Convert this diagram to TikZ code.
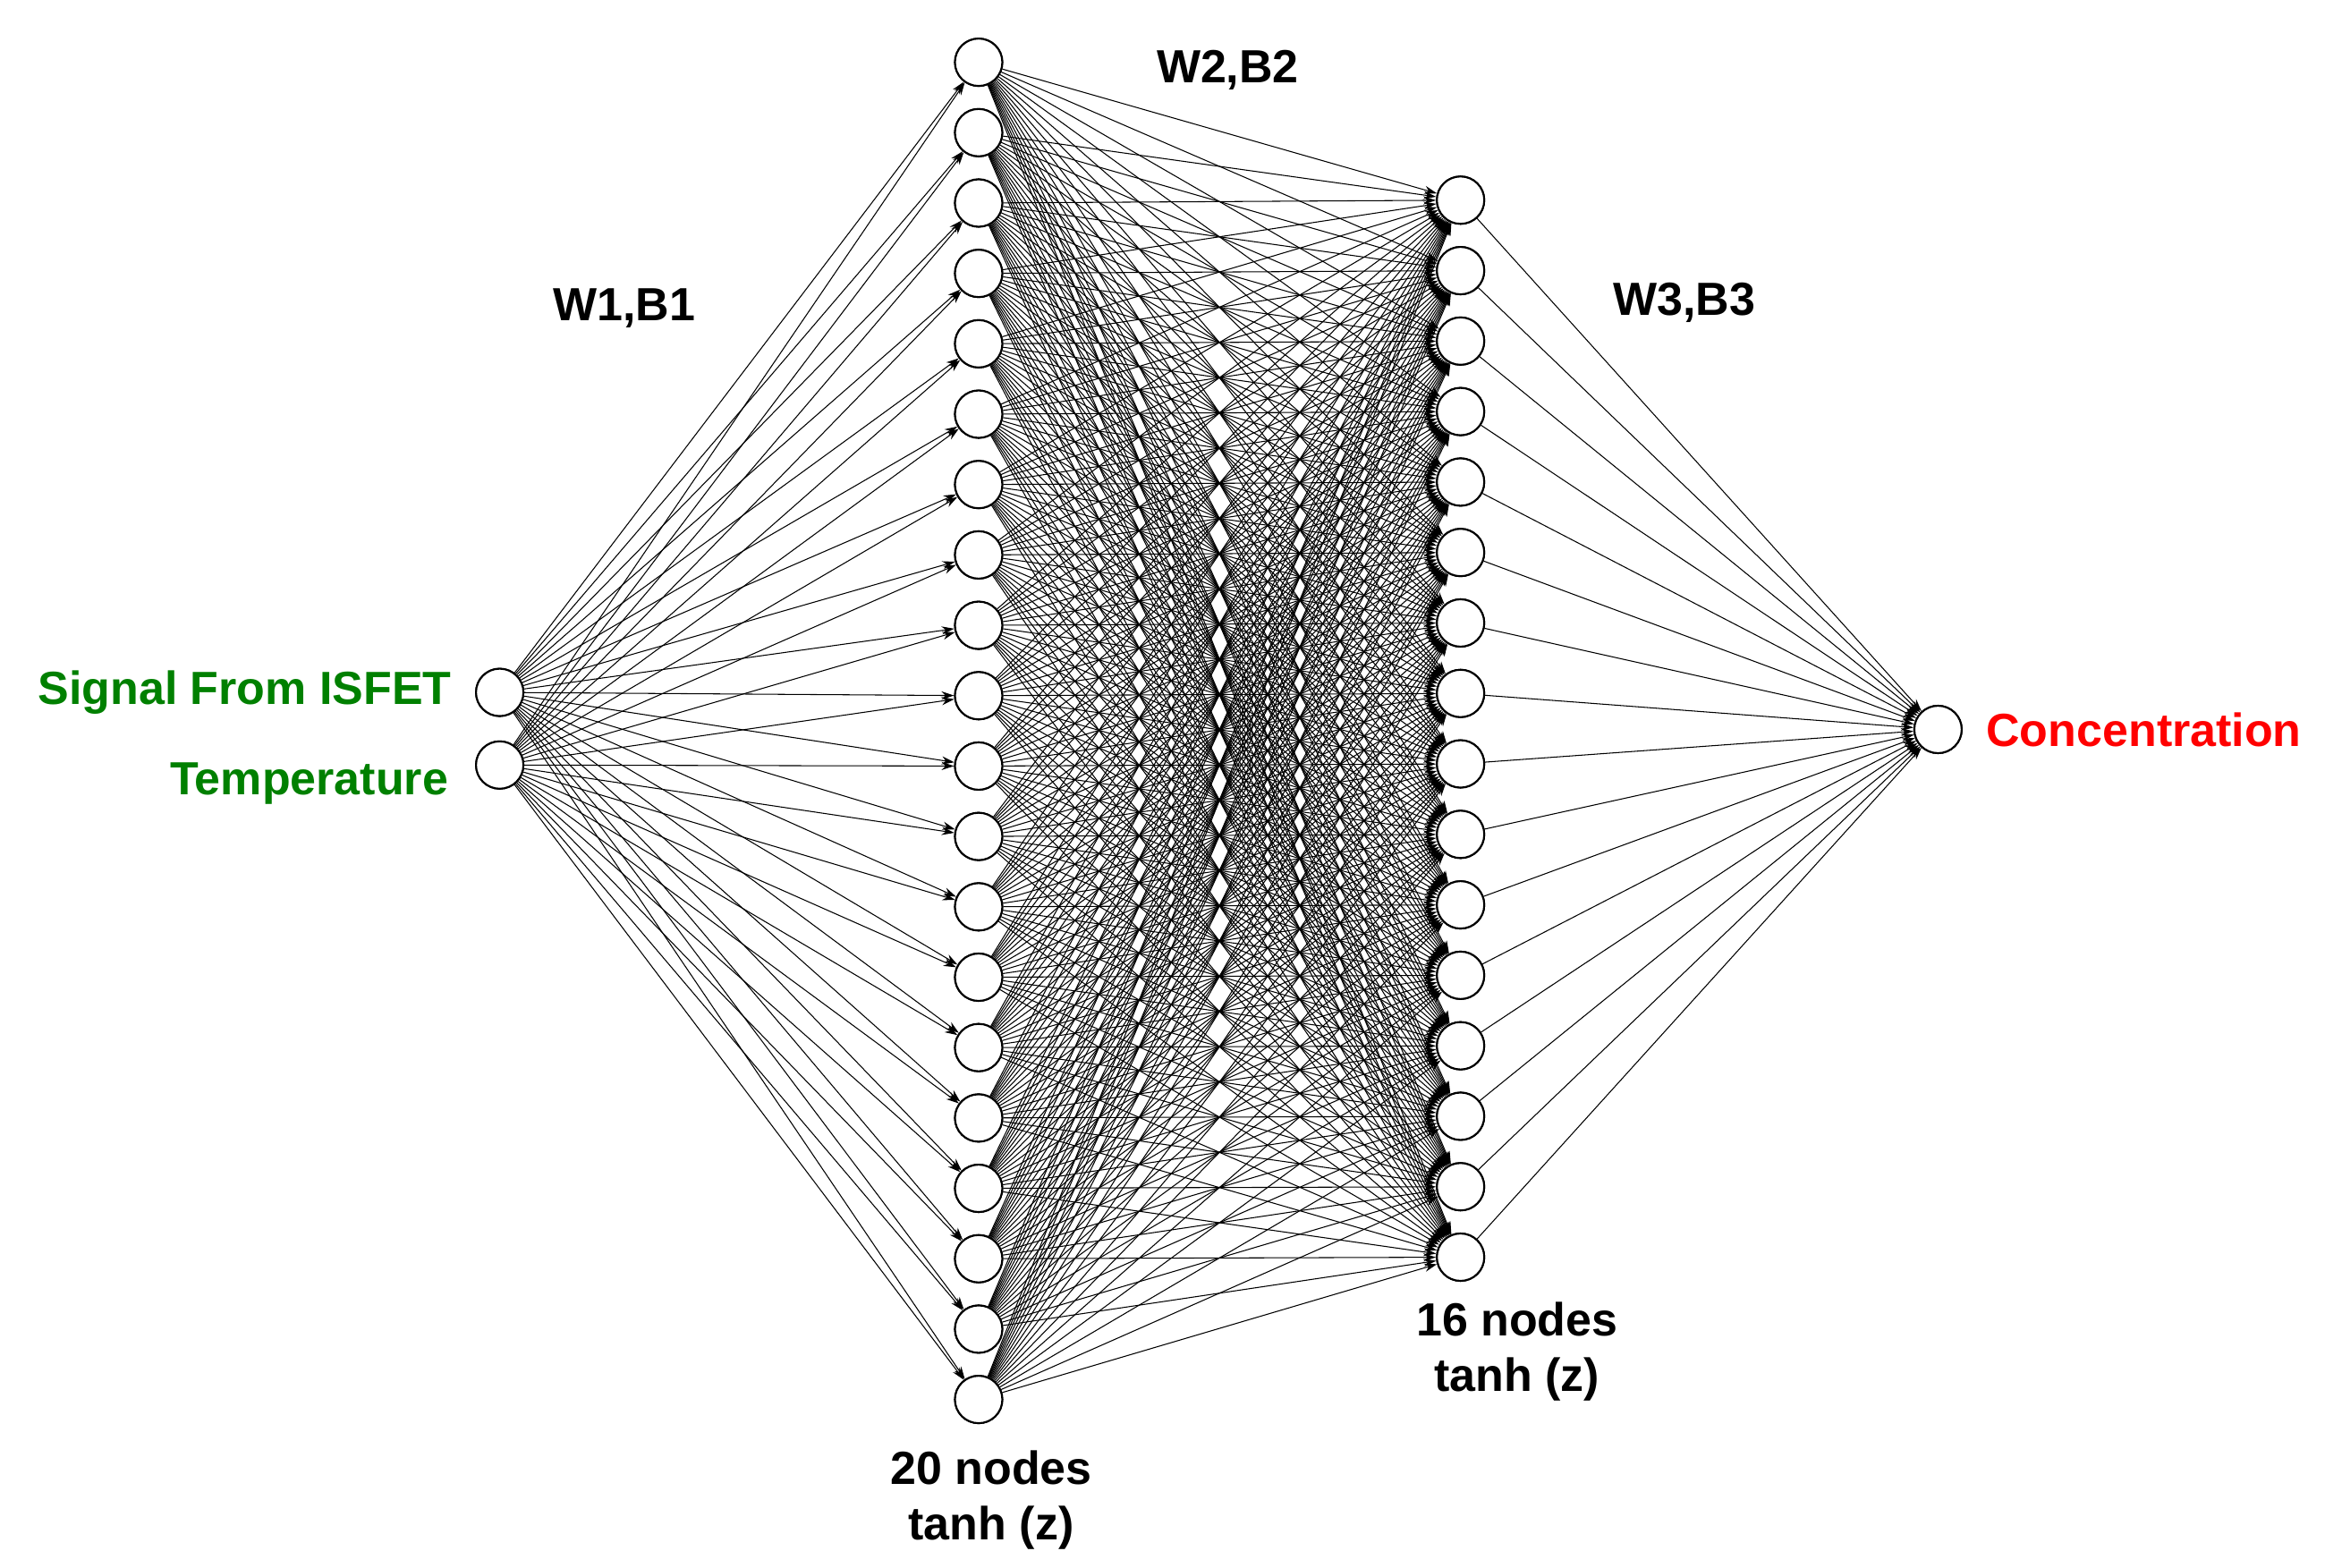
\documentclass[tikz,border=0pt]{standalone}
\usepackage{fontspec}
\setmainfont{Liberation Sans}
\usetikzlibrary{positioning,arrows.meta}

\begin{document}
\begin{tikzpicture}[x=0.01658cm, y=-0.01658cm, >={Stealth[length=4pt,width=2.6pt]},
    neuron/.style={circle, draw, line width=0.6pt, fill=white, minimum size=0.53cm, inner sep=0pt},
    link/.style={->, line width=0.3pt},
    lbl/.style={font=\fontsize{14.8}{17.5}\selectfont\bfseries, align=center}]
\useasboundingbox (0,0) rectangle (1568,1057);
% layers
\node[neuron] (in1) at (337,467) {};
\node[neuron] (in2) at (337,516) {};
\foreach \i in {1,...,20}
    \node[neuron] (h\i) at (660,{42+(\i-1)*47.47}) {};
\foreach \j in {1,...,16}
    \node[neuron] (g\j) at (985,{135+(\j-1)*47.53}) {};
\node[neuron] (out) at (1307,492) {};
% connections
\foreach \i in {1,...,20} {
    \draw[link] (in1) -- (h\i);
    \draw[link] (in2) -- (h\i);
}
\foreach \i in {1,...,20}
    \foreach \j in {1,...,16}
        \draw[link] (h\i) -- (g\j);
\foreach \j in {1,...,16}
    \draw[link] (g\j) -- (out);
% redraw nodes on top
\foreach \i in {1,...,20} \node[neuron] at (h\i) {};
\foreach \j in {1,...,16} \node[neuron] at (g\j) {};
\node[neuron] at (in1) {};
\node[neuron] at (in2) {};
\node[neuron] at (out) {};
% labels
\node[lbl, text=green!50!black, left=4pt of in1] (sig) {Signal From ISFET};
\node[lbl, text=green!50!black, left=5pt of in2, yshift=-6pt] (temp) {Temperature};
\node[lbl, text=red, right=4pt of out] (conc) {Concentration};
\node[lbl] (w1) at (421,208) {W1,B1};
\node[lbl] (w2) at (828,47) {W2,B2};
\node[lbl] (w3) at (1136,204) {W3,B3};
\node[lbl, below=5pt of h20, xshift=4pt] (n20) {20 nodes\\tanh (z)};
\node[lbl, below=3pt of g16, xshift=18pt] (n16) {16 nodes\\tanh (z)};
\end{tikzpicture}
\end{document}
